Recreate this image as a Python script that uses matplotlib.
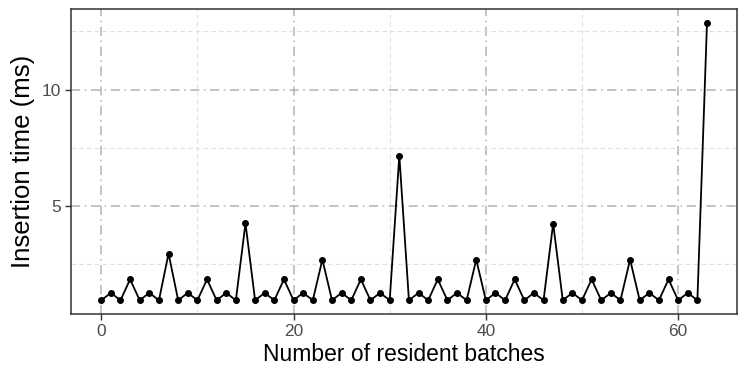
import matplotlib
matplotlib.use("Agg")
import matplotlib.pyplot as plt
from matplotlib.ticker import MultipleLocator

plt.rcParams['font.family'] = ['Liberation Sans', 'DejaVu Sans']

# Data: insertion time per number of resident batches
batches = list(range(64))
times_ms = [
    0.94, 1.26, 0.94, 1.84, 0.94, 1.26, 0.94, 2.95,
    0.94, 1.26, 0.94, 1.84, 0.94, 1.26, 0.94, 4.25,
    0.94, 1.26, 0.94, 1.84, 0.94, 1.26, 0.94, 2.69,
    0.94, 1.26, 0.94, 1.84, 0.94, 1.26, 0.94, 7.16,
    0.94, 1.26, 0.94, 1.84, 0.94, 1.26, 0.94, 2.69,
    0.94, 1.26, 0.94, 1.84, 0.94, 1.26, 0.94, 4.24,
    0.94, 1.26, 0.94, 1.84, 0.94, 1.26, 0.94, 2.69,
    0.94, 1.26, 0.94, 1.84, 0.94, 1.26, 0.94, 12.87,
]

fig = plt.figure(figsize=(7.47, 3.74), dpi=100)
ax = fig.add_axes([0.095, 0.160, 0.892, 0.816])

ax.plot(batches, times_ms, color='black', linewidth=1.3, marker='o',
        markersize=4, zorder=3)

# ggplot-style 5% expansion
xr = max(batches) - min(batches)
yr = max(times_ms) - min(times_ms)
ax.set_xlim(min(batches) - 0.05 * xr, max(batches) + 0.05 * xr)
ax.set_ylim(min(times_ms) - 0.05 * yr, max(times_ms) + 0.05 * yr)

ax.xaxis.set_major_locator(MultipleLocator(20))
ax.xaxis.set_minor_locator(MultipleLocator(10))
ax.yaxis.set_major_locator(MultipleLocator(5))
ax.yaxis.set_minor_locator(MultipleLocator(2.5))

ax.grid(which='major', color='#b3b3b3', linestyle=(0, (6, 3, 1, 3)), linewidth=1.1)
ax.grid(which='minor', color='#e0e0e0', linestyle=(0, (4, 3)), linewidth=0.8)
ax.set_axisbelow(True)

for s in ax.spines.values():
    s.set_color('#333333')
    s.set_linewidth(1.1)

ax.tick_params(which='major', length=4, width=1, color='#333333',
               labelcolor='#4d4d4d', labelsize=12.5, pad=3)
ax.tick_params(which='minor', length=0)

ax.set_xlabel('Number of resident batches', fontsize=16.5, color='black', labelpad=3)
ax.set_ylabel('Insertion time (ms)', fontsize=18.5, color='black', labelpad=5)

fig.savefig('out.png', dpi=100)
